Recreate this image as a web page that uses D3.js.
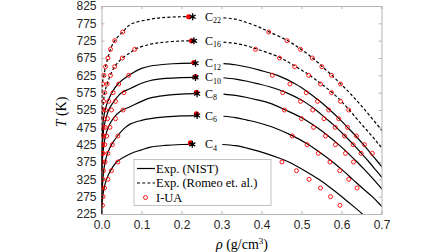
<!DOCTYPE html>
<html>
<head>
<meta charset="utf-8">
<script src="https://cdn.jsdelivr.net/npm/d3@7"></script>
<style>
  body { margin: 0; background: #fff; }
  svg { display: block; }
  .tick text { font-family: "Liberation Sans", Arial, sans-serif; font-size: 12px; fill: #262626; }
  .serif { font-family: "Liberation Serif", "Times New Roman", serif; fill: #000; }
</style>
</head>
<body>
<svg id="chart" width="448" height="252"></svg>
<script>
// axis ticks
const rhoTicks = [0, 0.1, 0.2, 0.3, 0.4, 0.5, 0.6, 0.7];
const tempTicks = [225, 275, 325, 375, 425, 475, 525, 575, 625, 675, 725, 775, 825];

const alkanes = ["4", "6", "8", "10", "12", "16", "22"];
const dashed = [false, false, false, false, false, true, true];

// experimental coexistence curves [rho, T]: vapour branch up to the critical point
const c4Vap = [[0.0003,225],[0.001,250],[0.003,275],[0.0065,300],[0.0125,325],[0.0225,350],[0.038,375],[0.0725,399],[0.10,410],[0.1225,418],[0.16,423],[0.20,425.5],[0.227,426]];
const c6Vap = [[0.0002,225],[0.0005,250],[0.001,275],[0.002,300],[0.0035,325],[0.0055,350],[0.009,375],[0.015,400],[0.025,425],[0.04,450],[0.055,470],[0.0725,485],[0.10,495],[0.1225,500],[0.16,505],[0.20,508],[0.239,509]];
const c8Vap = [[0.0001,250],[0.0003,300],[0.001,350],[0.002,375],[0.0035,400],[0.006,425],[0.01,450],[0.017,475],[0.029,500],[0.048,522],[0.0725,535],[0.10,550],[0.1225,560],[0.16,567],[0.20,571],[0.239,572]];
const c10Vap = [[0.0001,300],[0.0004,350],[0.001,400],[0.002,425],[0.004,450],[0.006,475],[0.011,500],[0.018,525],[0.031,550],[0.05,575],[0.0725,587],[0.10,602],[0.1225,610],[0.16,616],[0.20,618.5],[0.235,619]];
const c12Vap = [[0.0001,350],[0.0005,400],[0.001,425],[0.002,450],[0.003,475],[0.005,500],[0.009,525],[0.016,550],[0.026,575],[0.041,600],[0.0725,628],[0.10,645],[0.1225,652],[0.16,657],[0.20,659.5],[0.235,660]];
const c16Vap = [[0.0005,450],[0.001,500],[0.003,525],[0.005,550],[0.008,575],[0.014,600],[0.022,625],[0.033,650],[0.052,675],[0.0725,691],[0.083,700],[0.1225,715],[0.16,721],[0.20,724],[0.231,724.5]];
const c22Vap = [[0.0005,500],[0.001,550],[0.002,600],[0.006,625],[0.01,650],[0.016,675],[0.0225,700],[0.033,725],[0.053,750],[0.0725,772],[0.1225,787],[0.16,792],[0.20,794],[0.228,794]];

// liquid branch, drawn from just right of the label
const c4Liq = [[0.302,425.5],[0.335,422],[0.364,415],[0.39,407],[0.41,400],[0.44,388],[0.468,375],[0.508,350],[0.543,325],[0.573,300],[0.601,275],[0.627,250],[0.652,225],[0.675,200]];
const c6Liq = [[0.305,507],[0.335,503],[0.364,496],[0.39,489],[0.427,476],[0.477,451],[0.516,426],[0.549,400],[0.578,375],[0.604,350],[0.628,325],[0.652,300],[0.677,275],[0.698,250],[0.718,225]];
const c8Liq = [[0.305,571],[0.335,567],[0.364,561],[0.39,554],[0.42,545],[0.46,525],[0.505,500],[0.538,475],[0.567,450],[0.593,425],[0.617,400],[0.639,375],[0.66,350],[0.68,325],[0.699,300],[0.718,275]];
const c10Liq = [[0.305,618],[0.335,614],[0.364,608],[0.39,601],[0.42,592],[0.462,575],[0.505,550],[0.536,525],[0.562,500],[0.587,475],[0.609,450],[0.63,425],[0.65,400],[0.669,375],[0.687,350],[0.705,325]];
const c12Liq = [[0.305,659],[0.335,655.5],[0.364,649],[0.395,640],[0.44,625],[0.485,600],[0.518,575],[0.546,550],[0.571,525],[0.594,500],[0.615,475],[0.636,450],[0.655,425],[0.673,400],[0.691,375],[0.709,350]];
const c16Liq = [[0.305,721],[0.335,717],[0.36,711],[0.385,702],[0.445,677],[0.483,652],[0.518,627],[0.5475,602],[0.575,577],[0.598,552],[0.618,527],[0.638,500],[0.657,475],[0.676,450],[0.694,425],[0.712,400]];
const c22Liq = [[0.305,791],[0.335,787],[0.364,777],[0.392,765],[0.418,751],[0.464,726],[0.4975,701],[0.527,676],[0.551,651],[0.575,626],[0.5975,601],[0.619,576],[0.639,551],[0.658,526],[0.676,501],[0.694,476],[0.712,451]];

// I-UA predictions [rho, T]
const c4Iua = [[0.0025,250],[0.004,275],[0.0075,300],[0.016,325],[0.025,350],[0.041,375],
  [0.596,250],[0.5725,275],[0.5475,300],[0.519,325],[0.4875,350],[0.451,375]];
const c6Iua = [[0.001,300],[0.003,325],[0.005,350],[0.009,375],[0.016,400],[0.027,425],[0.041,450],
  [0.639,300],[0.618,325],[0.5957,350],[0.571,375],[0.542,400],[0.514,425],[0.477,450]];
const c8Iua = [[0.002,375],[0.004,400],[0.008,425],[0.013,450],[0.021,475],[0.035,500],[0.054,525],
  [0.63,375],[0.61,400],[0.585,425],[0.56,450],[0.53,475],[0.5,500],[0.4575,525]];
const c10Iua = [[0.002,400],[0.003,425],[0.005,450],[0.009,475],[0.015,500],[0.025,525],[0.035,550],[0.056,575],
  [0.649,400],[0.629,425],[0.6075,450],[0.584,475],[0.556,500],[0.528,525],[0.4975,550],[0.453,575]];
const c12Iua = [[0.001,400],[0.001,425],[0.002,450],[0.004,475],[0.006,500],[0.01,525],[0.018,550],[0.029,575],[0.043,600],[0.068,625],
  [0.677,400],[0.6575,425],[0.6375,450],[0.615,475],[0.593,500],[0.568,525],[0.54,550],[0.512,575],[0.471,600],[0.427,625]];
const c16Iua = [[0.003,525],[0.005,550],[0.008,575],[0.014,600],[0.0225,625],[0.033,650],[0.052,675],[0.083,700],
  [0.618,525],[0.5975,550],[0.575,575],[0.5475,600],[0.518,625],[0.483,650],[0.445,675],[0.385,700]];
const c22Iua = [[0.003,600],[0.006,625],[0.01,650],[0.016,675],[0.0225,700],[0.033,725],[0.053,750],
  [0.5975,600],[0.575,625],[0.551,650],[0.527,675],[0.4975,700],[0.464,725],[0.418,750]];

// critical points
const critExp = [[0.227,426],[0.239,509],[0.239,572],[0.235,619],[0.235,660],[0.231,724.5],[0.228,794]];
const critIua = [[0.2225,430],[0.2375,514],[0.2375,576],[0.235,621],[0.231,662],[0.225,724.5],[0.218,794]];

const vapBranches = [c4Vap, c6Vap, c8Vap, c10Vap, c12Vap, c16Vap, c22Vap];
const liqBranches = [c4Liq, c6Liq, c8Liq, c10Liq, c12Liq, c16Liq, c22Liq];
const iuaSets = [c4Iua, c6Iua, c8Iua, c10Iua, c12Iua, c16Iua, c22Iua];

const svg = d3.select("#chart");
const plotL = 101.5, plotR = 381.5, plotT = 6, plotB = 214;
const x = d3.scaleLinear().domain([0, 0.7]).range([plotL, plotR]);
const y = d3.scaleLinear().domain([225, 825]).range([plotB, plotT]);
const axisColor = "#b4b4b4";

svg.append("defs").append("clipPath").attr("id", "plotclip")
    .append("rect").attr("x", plotL).attr("y", plotT)
    .attr("width", plotR - plotL).attr("height", plotB - plotT);

// axes with inward ticks on all four sides
const gx = svg.append("g").attr("transform", `translate(0,${plotB})`)
    .call(d3.axisBottom(x).tickValues(rhoTicks).tickFormat(d3.format(".1f")).tickSize(-3).tickPadding(6));
const gxTop = svg.append("g").attr("transform", `translate(0,${plotT})`)
    .call(d3.axisTop(x).tickValues(rhoTicks).tickFormat("").tickSize(-3));
const gy = svg.append("g").attr("transform", `translate(${plotL},0)`)
    .call(d3.axisLeft(y).tickValues(tempTicks).tickFormat(d3.format("d")).tickSize(-3).tickPadding(5));
const gyRight = svg.append("g").attr("transform", `translate(${plotR},0)`)
    .call(d3.axisRight(y).tickValues(tempTicks).tickFormat("").tickSize(-3));
[gx, gxTop, gy, gyRight].forEach(g => {
    g.select(".domain").attr("stroke", axisColor);
    g.selectAll(".tick line").attr("stroke", axisColor);
});

const plot = svg.append("g").attr("clip-path", "url(#plotclip)");
const line = d3.line().x(d => x(d[0])).y(d => y(d[1])).curve(d3.curveCatmullRom.alpha(0.5));

alkanes.forEach((name, i) => {
    [vapBranches[i], liqBranches[i]].forEach(branch => {
        plot.append("path")
            .attr("d", line(branch))
            .attr("fill", "none")
            .attr("stroke", "#000")
            .attr("stroke-width", 1.2)
            .attr("stroke-dasharray", dashed[i] ? "3,2.2" : null);
    });
});

// I-UA markers
alkanes.forEach((name, i) => {
    plot.selectAll(null).data(iuaSets[i]).enter()
        .append("circle")
        .attr("cx", d => x(d[0]))
        .attr("cy", d => y(d[1]))
        .attr("r", 2)
        .attr("fill", "none")
        .attr("stroke", "#ff0000")
        .attr("stroke-width", 0.9);
});

// critical points
svg.selectAll(".critiua").data(critIua).enter()
    .append("circle")
    .attr("cx", d => x(d[0]))
    .attr("cy", d => y(d[1]))
    .attr("r", 2.6)
    .attr("fill", "#ff0000");
const star = d3.symbol().type(d3.symbolAsterisk).size(34);
svg.selectAll(".critexp").data(critExp).enter()
    .append("path")
    .attr("d", star)
    .attr("transform", d => `translate(${x(d[0])},${y(d[1])})`)
    .attr("fill", "none")
    .attr("stroke", "#000")
    .attr("stroke-width", 1.3);

// C_n labels
alkanes.forEach((name, i) => {
    const t = svg.append("text").attr("class", "serif")
        .attr("x", x(0.259))
        .attr("y", y(critExp[i][1]) + 4)
        .style("font-size", "12px");
    t.append("tspan").text("C");
    t.append("tspan").attr("dy", 2.5).style("font-size", "8px").text(name);
});

// axis labels
const yl = svg.append("text").attr("class", "serif")
    .attr("transform", `translate(66,112) rotate(-90)`)
    .attr("text-anchor", "middle")
    .style("font-size", "14px");
yl.append("tspan").style("font-style", "italic").text("T");
yl.append("tspan").text(" (K)");

const xl = svg.append("text").attr("class", "serif")
    .attr("x", 242).attr("y", 249)
    .attr("text-anchor", "middle")
    .style("font-size", "14px");
xl.append("tspan").style("font-style", "italic").text("ρ");
xl.append("tspan").text(" (g/cm");
xl.append("tspan").attr("dy", -5).style("font-size", "9px").text("3");
xl.append("tspan").attr("dy", 5).text(")");

// legend
const lg = svg.append("g");
lg.append("rect").attr("x", 134).attr("y", 159.5).attr("width", 137).attr("height", 46)
    .attr("fill", "#fff").attr("stroke", axisColor).attr("stroke-width", 0.8);
const legendItems = [
    { label: "Exp. (NIST)", kind: "solid" },
    { label: "Exp. (Romeo et. al.)", kind: "dash" },
    { label: "I-UA", kind: "circle" }
];
legendItems.forEach((it, k) => {
    const cy = 168.5 + k * 14.5;
    if (it.kind === "circle") {
        lg.append("circle").attr("cx", 145.5).attr("cy", cy).attr("r", 2)
            .attr("fill", "none").attr("stroke", "#ff0000").attr("stroke-width", 0.9);
    } else {
        lg.append("line").attr("x1", 137).attr("x2", 155).attr("y1", cy).attr("y2", cy)
            .attr("stroke", "#000").attr("stroke-width", 1.2)
            .attr("stroke-dasharray", it.kind === "dash" ? "3,2.2" : null);
    }
    lg.append("text").attr("class", "serif")
        .attr("x", 156).attr("y", cy + 4)
        .style("font-size", "12.5px")
        .text(it.label);
});
</script>
</body>
</html>
